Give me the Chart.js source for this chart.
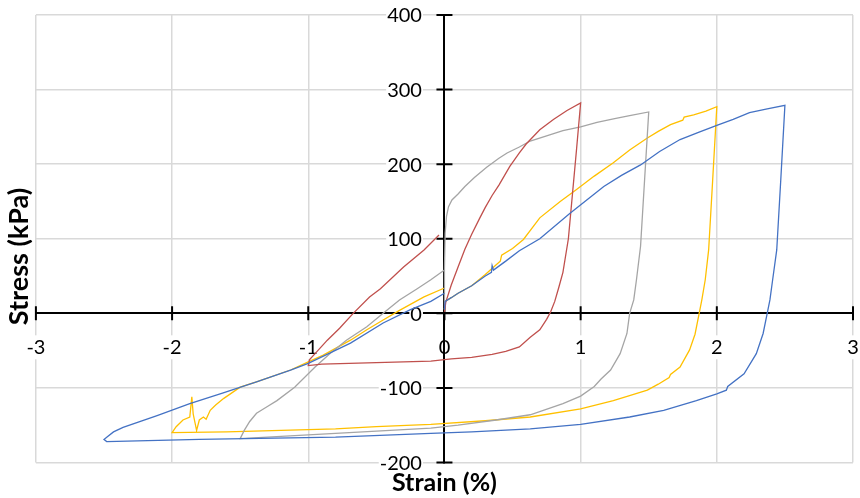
<!DOCTYPE html>
<html>
<head>
<meta charset="utf-8">
<script src="https://cdn.jsdelivr.net/npm/chart.js@4.4.1/dist/chart.umd.min.js"></script>
<style>
  body { margin: 0; background: #fff; }
  #wrap { width: 860px; height: 498px; }
</style>
</head>
<body>
<div id="wrap"><canvas id="loops" width="860" height="498"></canvas></div>
<script>
'use strict';

// axis ticks
const strainTicks = [-3, -2, -1, 0, 1, 2, 3];
const stressTicks = [-200, -100, 0, 100, 200, 300, 400];

// 1 % loop (red)
const strain1 = [0, 0.01, 0.05, 0.1, 0.15, 0.2, 0.26, 0.3, 0.35, 0.4, 0.48, 0.55, 0.6, 0.7, 0.8, 0.9, 1.0,
  0.97, 0.94, 0.91, 0.87, 0.84, 0.81, 0.78, 0.75, 0.7, 0.63, 0.55, 0.45, 0.35, 0.2, 0.05, -0.1, -0.3, -0.5, -0.7, -0.9, -1.0,
  -0.99, -0.94, -0.86, -0.77, -0.67, -0.55, -0.47, -0.3, -0.15, -0.04];
const stress1 = [2, 15, 38, 62, 86, 106, 128, 142, 158, 172, 197, 215, 227, 246, 260, 272, 282,
  220, 160, 100, 55, 35, 16, 2, -8, -22, -32, -45, -51, -55, -59, -61, -64, -65, -66, -67, -68, -70,
  -62, -52, -36, -20, 0, 22, 33, 62, 85, 105];

// 1.5 % loop (grey)
const strain15 = [0, 0, 0.005, 0.015, 0.03, 0.055, 0.1, 0.15, 0.22, 0.31, 0.4, 0.46, 0.55, 0.63, 0.75, 0.87, 1.0, 1.12, 1.25, 1.36, 1.5,
  1.47, 1.44, 1.41, 1.39, 1.36, 1.34, 1.29, 1.22, 1.15, 1.12, 1.1, 1.0, 0.87, 0.63, 0.38, 0.1, -0.1, -0.5, -0.8, -1.2, -1.5,
  -1.47, -1.43, -1.38, -1.3, -1.23, -1.1, -0.95, -0.84, -0.72, -0.57, -0.45, -0.33, -0.2, -0.1, 0];
const stress15 = [5, 60, 107, 130, 143, 152, 160, 170, 182, 196, 208, 215, 223, 231, 238, 245, 250, 256, 261, 265, 270,
  180, 90, 45, 18, 0, -27, -54, -76, -88, -94, -98, -111, -121, -136, -143, -150, -154, -158, -161, -165, -168,
  -157, -145, -134, -125, -117, -99, -72, -54, -36, -18, 0, 18, 33, 45, 58];

// 2 % loop (yellow)
const strain2 = [0, 0.005, 0.05, 0.1, 0.2, 0.3, 0.38, 0.41, 0.42, 0.5, 0.58, 0.7, 0.85, 0.97, 1.1, 1.24, 1.36, 1.49, 1.57, 1.66, 1.75, 1.76, 1.83, 1.92, 2.0,
  1.97, 1.94, 1.915, 1.89, 1.865, 1.84, 1.8, 1.73, 1.66, 1.65, 1.57, 1.49, 1.24, 1.0, 0.63, 0.3, -0.1, -0.5, -0.8, -1.2, -1.6, -2.0,
  -1.97, -1.92, -1.87, -1.855, -1.845, -1.82, -1.8, -1.77, -1.75, -1.72, -1.68, -1.62, -1.5, -1.38, -1.13, -1.0, -0.89, -0.69, -0.57, -0.45, -0.33, -0.15, 0];
const stress2 = [5, 16, 21, 27, 37, 52, 65, 70, 78, 87, 99, 128, 150, 166, 184, 202, 219, 235, 244, 253, 259, 263, 266, 271, 277,
  180, 85, 45, 18, -5, -28, -49, -72, -82, -86, -95, -103, -117, -128, -139, -144, -149, -152, -155, -157, -159, -160,
  -152, -143, -139, -112, -135, -157, -143, -139, -142, -130, -123, -114, -99, -92, -76, -65, -56, -36, -22, -9, 4, 22, 34];

// 2.5 % loop (blue)
const strain25 = [0, 0.005, 0.05, 0.1, 0.2, 0.3, 0.345, 0.35, 0.36, 0.45, 0.55, 0.7, 0.92, 1.17, 1.3, 1.44, 1.58, 1.73, 1.87, 2.0, 2.12, 2.24, 2.37, 2.5,
  2.47, 2.44, 2.41, 2.39, 2.37, 2.34, 2.29, 2.2, 2.08, 2.07, 2.0, 1.85, 1.61, 1.36, 1.0, 0.63, 0.2, -0.1, -0.8, -1.8, -2.48, -2.5,
  -2.48, -2.43, -2.36, -2.11, -1.87, -1.63, -1.38, -1.13, -1.0, -0.69, -0.45, -0.25, -0.1, 0];
const stress25 = [5, 16, 21, 27, 37, 50, 55, 64, 58, 70, 84, 100, 134, 170, 185, 199, 217, 233, 243, 252, 260, 269, 274, 279,
  180, 85, 45, 18, 0, -27, -54, -81, -98, -103, -108, -117, -130, -139, -149, -155, -159, -161, -166, -169, -172, -169,
  -166, -159, -153, -137, -121, -107, -92, -76, -67, -40, -13, 5, 16, 27];

function pts(xs, ys) {
  return xs.map((v, i) => ({ x: v, y: ys[i] }));
}

// tick marks crossing both axes + stress labels left of the vertical axis
const crossAxes = {
  id: 'crossAxes',
  beforeDatasetsDraw(chart) {
    const { ctx, scales: { x, y } } = chart;
    const x0 = x.getPixelForValue(0);
    const y0 = y.getPixelForValue(0);
    ctx.save();
    ctx.strokeStyle = '#000';
    ctx.lineWidth = 2;
    ctx.beginPath();
    strainTicks.forEach(v => {
      const px = x.getPixelForValue(v);
      ctx.moveTo(px, y0 - 7);
      ctx.lineTo(px, y0 + 7);
    });
    stressTicks.forEach(v => {
      const py = y.getPixelForValue(v);
      ctx.moveTo(x0 - 8, py);
      ctx.lineTo(x0 + 8, py);
    });
    ctx.stroke();

    ctx.font = '20px Lato';
    ctx.textAlign = 'right';
    ctx.textBaseline = 'middle';
    stressTicks.forEach(v => {
      const py = y.getPixelForValue(v);
      const txt = String(v);
      const w = ctx.measureText(txt).width;
      const right = x0 - 22.5;
      ctx.fillStyle = '#fff';
      ctx.fillRect(right - w - 1, py - 10, w + 2, 20);
      ctx.fillStyle = '#000';
      ctx.fillText(txt, right, py + 1);
    });
    ctx.restore();
  }
};

const lineStyle = { showLine: true, pointRadius: 0, borderWidth: 1.3, tension: 0, fill: false };
const gridColor = c => (c.tick && c.tick.value === 0 ? 'rgba(0,0,0,0)' : '#d9d9d9');

new Chart(document.getElementById('loops'), {
  type: 'scatter',
  data: {
    datasets: [
      { label: '2.5%', data: pts(strain25, stress25), borderColor: '#4472c4', ...lineStyle },
      { label: '1%', data: pts(strain1, stress1), borderColor: '#c0504d', ...lineStyle },
      { label: '1.5%', data: pts(strain15, stress15), borderColor: '#a5a5a5', ...lineStyle },
      { label: '2%', data: pts(strain2, stress2), borderColor: '#ffc000', ...lineStyle },
    ],
  },
  options: {
    responsive: false,
    animation: false,
    layout: { padding: { top: 15, right: 7, bottom: 0, left: 0 } },
    plugins: {
      legend: { display: false },
      tooltip: { enabled: false },
      title: {
        display: true,
        text: 'Stress (kPa)',
        position: 'left',
        fullSize: true,
        color: '#000',
        font: { family: 'Lato', size: 27, weight: 'bold' },
        padding: { top: 3.5, bottom: 0 },
      },
      subtitle: {
        display: true,
        text: 'Strain (%)',
        position: 'bottom',
        fullSize: false,
        color: '#000',
        font: { family: 'Lato', size: 25, weight: 'bold' },
        padding: { top: 5.5, bottom: 0 },
      },
    },
    scales: {
      x: {
        type: 'linear',
        min: -3,
        max: 3,
        position: { y: 0 },
        afterBuildTicks: s => { s.ticks = strainTicks.map(v => ({ value: v })); },
        grid: { color: gridColor, lineWidth: 1.5, drawTicks: true, tickLength: 22, tickColor: 'rgba(0,0,0,0)' },
        border: { display: true, color: '#000', width: 2 },
        ticks: {
          color: '#000',
          font: { family: 'Lato', size: 20 },
          padding: 0,
          showLabelBackdrop: true,
          backdropColor: '#fff',
          backdropPadding: { top: 0, bottom: 0, left: 1, right: 1 },
        },
      },
      y: {
        type: 'linear',
        min: -200,
        max: 400,
        position: { x: 0 },
        afterBuildTicks: s => { s.ticks = stressTicks.map(v => ({ value: v })); },
        grid: { color: gridColor, lineWidth: 1.5, drawTicks: false },
        border: { display: true, color: '#000', width: 2 },
        ticks: { display: false },
      },
    },
  },
  plugins: [crossAxes],
});
</script>
</body>
</html>
